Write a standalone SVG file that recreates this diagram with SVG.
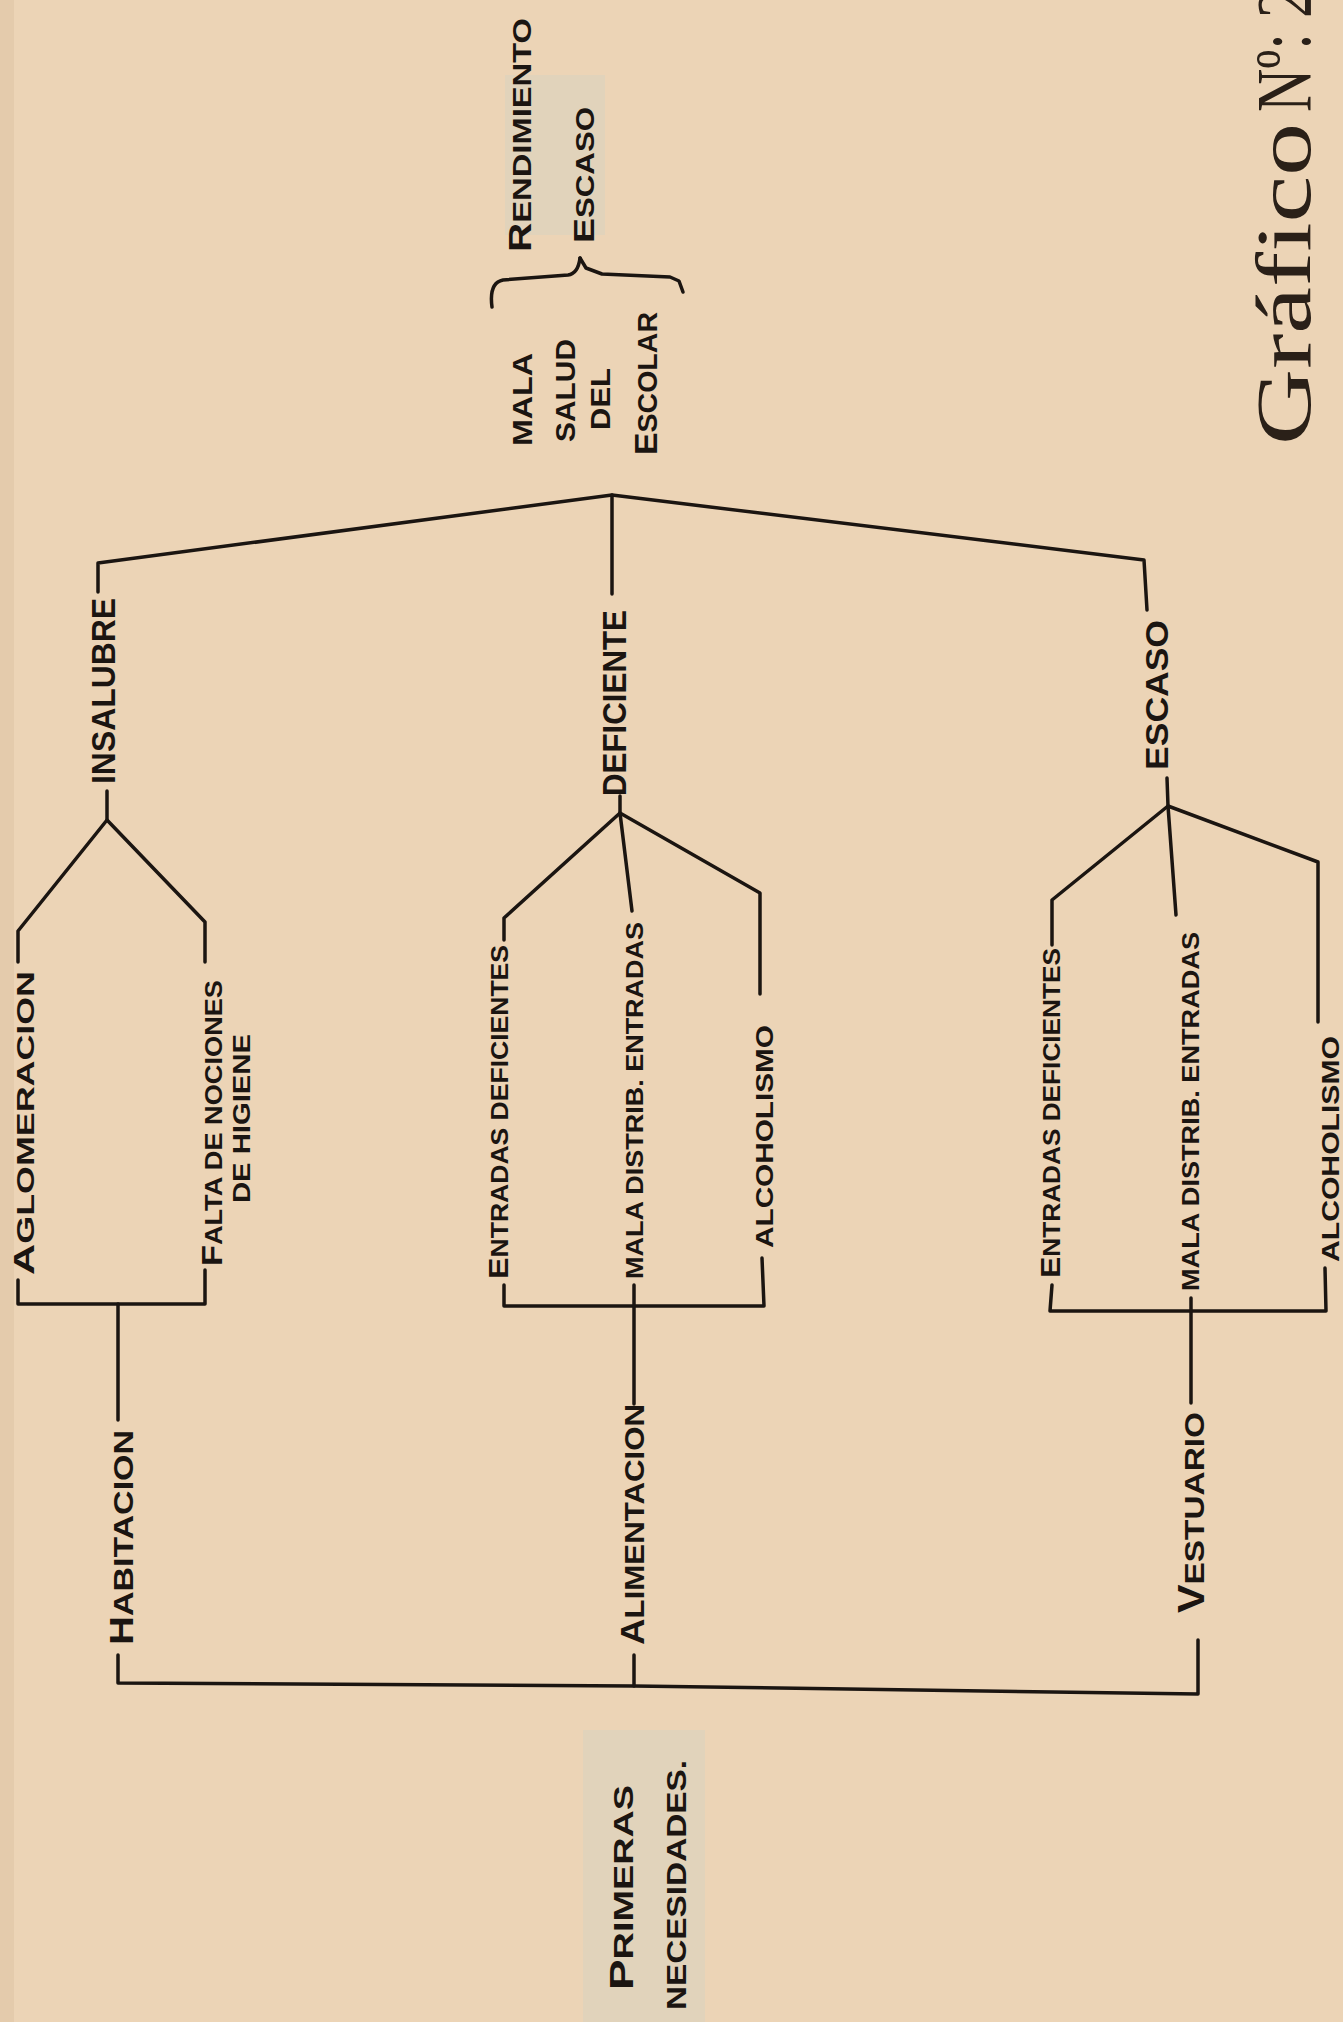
<svg xmlns="http://www.w3.org/2000/svg" width="1343" height="2022" viewBox="0 0 1343 2022">
<style>
.t{font-family:"Liberation Sans","DejaVu Sans",sans-serif;font-weight:bold;fill:#1b1511}
.c{fill:none;stroke:#1b1511;stroke-width:3.5;stroke-linecap:round;stroke-linejoin:round}
.ttl{font-family:"Liberation Serif","DejaVu Serif",serif;fill:#2a2018}
.shade{fill:#c8d0c8;opacity:0.3}
</style>
<rect x="0" y="0" width="1343" height="2022" fill="#ecd4b6"/>
<rect x="0" y="0" width="14" height="2022" fill="#e4cbac"/>
<rect class="shade" x="505" y="75" width="100" height="160"/>
<rect class="shade" x="583" y="1730" width="122" height="292"/>
<g id="connectors">
<polyline class="c" points="98,592 98,563 612,495 1144,560 1147,610"/>
<polyline class="c" points="612,495 612,594"/>
<polyline class="c" points="580,258 586,268 602,274 670,277 679,281 683,292"/>
<path class="c" d="M492,307 C490,292 493,282 503,280 L568,275 C576,274 579,266 580,258"/>
<polyline class="c" points="107,791 107,820"/>
<polyline class="c" points="18,962 18,931 107,820 205,922 205,962"/>
<polyline class="c" points="18,1280 18,1304 205,1304 205,1270"/>
<polyline class="c" points="118,1304 118,1420"/>
<polyline class="c" points="118,1655 118,1683 634,1686 1198,1694 1198,1640"/>
<polyline class="c" points="620,796 620,813"/>
<polyline class="c" points="504,940 504,918 620,813 760,893 760,994"/>
<polyline class="c" points="620,813 632,911"/>
<polyline class="c" points="504,1285 504,1306 764,1306 762,1258"/>
<polyline class="c" points="634,1285 634,1404"/>
<polyline class="c" points="634,1655 634,1686"/>
<polyline class="c" points="1167,778 1168,806"/>
<polyline class="c" points="1052,945 1052,900 1168,806 1318,862 1318,1022"/>
<polyline class="c" points="1168,806 1176,915"/>
<polyline class="c" points="1052,1285 1050,1311 1326,1311 1325,1268"/>
<polyline class="c" points="1191,1298 1191,1403"/>
</g>
<g id="node-rendimiento">
<text class="t" font-size="25" transform="translate(531,252) rotate(-90)" textLength="234" lengthAdjust="spacingAndGlyphs"><tspan font-size="31">R</tspan>ENDIMIENTO</text>
<text class="t" font-size="25" transform="translate(594,243) rotate(-90)" textLength="136" lengthAdjust="spacingAndGlyphs"><tspan font-size="30">E</tspan>SCASO</text>
</g>
<g id="node-mala-salud">
<text class="t" font-size="27" transform="translate(532,446) rotate(-90)" textLength="93" lengthAdjust="spacingAndGlyphs">MALA</text>
<text class="t" font-size="27" transform="translate(575,442) rotate(-90)" textLength="103" lengthAdjust="spacingAndGlyphs">SALUD</text>
<text class="t" font-size="27" transform="translate(610,430) rotate(-90)" textLength="62" lengthAdjust="spacingAndGlyphs">DEL</text>
<text class="t" font-size="27" transform="translate(657,455) rotate(-90)" textLength="143" lengthAdjust="spacingAndGlyphs"><tspan font-size="32">E</tspan>SCOLAR</text>
</g>
<g id="node-insalubre">
<text class="t" font-size="34" transform="translate(115,784) rotate(-90)" textLength="186" lengthAdjust="spacingAndGlyphs">INSALUBRE</text>
</g>
<g id="node-deficiente">
<text class="t" font-size="33" transform="translate(626,796) rotate(-90)" textLength="186" lengthAdjust="spacingAndGlyphs">DEFICIENTE</text>
</g>
<g id="node-escaso">
<text class="t" font-size="32" transform="translate(1168,770) rotate(-90)" textLength="150" lengthAdjust="spacingAndGlyphs">ESCASO</text>
</g>
<g id="node-aglomeracion">
<text class="t" font-size="24" transform="translate(34,1275) rotate(-90)" textLength="304" lengthAdjust="spacingAndGlyphs"><tspan font-size="29">A</tspan>GLOMERACION</text>
</g>
<g id="node-falta-nociones">
<text class="t" font-size="23" transform="translate(222,1266) rotate(-90)" textLength="286" lengthAdjust="spacingAndGlyphs"><tspan font-size="29">F</tspan>ALTA DE NOCIONES</text>
<text class="t" font-size="23" transform="translate(250,1203) rotate(-90)" textLength="169" lengthAdjust="spacingAndGlyphs">DE HIGIENE</text>
</g>
<g id="node-habitacion">
<text class="t" font-size="28" transform="translate(133,1645) rotate(-90)" textLength="215" lengthAdjust="spacingAndGlyphs"><tspan font-size="33">H</tspan>ABITACION</text>
</g>
<g id="node-entradas-def-1">
<text class="t" font-size="23" transform="translate(508,1279) rotate(-90)" textLength="334" lengthAdjust="spacingAndGlyphs"><tspan font-size="28">E</tspan>NTRADAS DEFICIENTES</text>
</g>
<g id="node-mala-distrib-1">
<text class="t" font-size="23" transform="translate(643,1279) rotate(-90)" textLength="357" lengthAdjust="spacingAndGlyphs">MALA DISTRIB. ENTRADAS</text>
</g>
<g id="node-alcoholismo-1">
<text class="t" font-size="23" transform="translate(773,1248) rotate(-90)" textLength="223" lengthAdjust="spacingAndGlyphs">ALCOHOLISMO</text>
</g>
<g id="node-alimentacion">
<text class="t" font-size="28" transform="translate(644,1645) rotate(-90)" textLength="241" lengthAdjust="spacingAndGlyphs"><tspan font-size="33">A</tspan>LIMENTACION</text>
</g>
<g id="node-entradas-def-2">
<text class="t" font-size="23" transform="translate(1060,1278) rotate(-90)" textLength="330" lengthAdjust="spacingAndGlyphs"><tspan font-size="28">E</tspan>NTRADAS DEFICIENTES</text>
</g>
<g id="node-mala-distrib-2">
<text class="t" font-size="23" transform="translate(1199,1291) rotate(-90)" textLength="359" lengthAdjust="spacingAndGlyphs">MALA DISTRIB. ENTRADAS</text>
</g>
<g id="node-alcoholismo-2">
<text class="t" font-size="23" transform="translate(1339,1262) rotate(-90)" textLength="226" lengthAdjust="spacingAndGlyphs">ALCOHOLISMO</text>
</g>
<g id="node-vestuario">
<text class="t" font-size="28" transform="translate(1204,1613) rotate(-90)" textLength="201" lengthAdjust="spacingAndGlyphs"><tspan font-size="36">V</tspan>ESTUARIO</text>
</g>
<g id="node-primeras-necesidades">
<text class="t" font-size="28" transform="translate(633,1990) rotate(-90)" textLength="205" lengthAdjust="spacingAndGlyphs"><tspan font-size="34">P</tspan>RIMERAS</text>
<text class="t" font-size="28" transform="translate(686,2010) rotate(-90)" textLength="250" lengthAdjust="spacingAndGlyphs">NECESIDADES.</text>
</g>
<g id="title">
<text class="ttl" font-size="78" transform="translate(1310,445) rotate(-90)" textLength="322" lengthAdjust="spacingAndGlyphs">Gráfico</text>
<text class="ttl" font-size="78" transform="translate(1310,112) rotate(-90)" textLength="124" lengthAdjust="spacingAndGlyphs">Nº: 2</text>
</g>
</svg>
